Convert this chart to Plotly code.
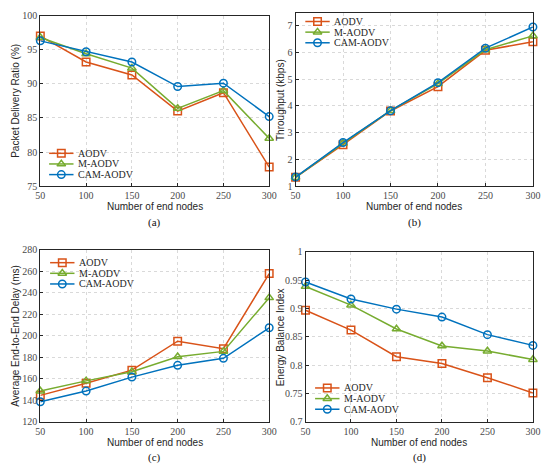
import plotly.graph_objects as go

nodes = [50, 100, 150, 200, 250, 300]
series_names = ["AODV", "M-AODV", "CAM-AODV"]

# (a) Packet Delivery Ratio (%)
pdr_aodv = [97.0, 93.2, 91.3, 86.0, 88.7, 77.8]
pdr_maodv = [96.8, 94.4, 92.3, 86.4, 89.0, 82.0]
pdr_cam = [96.3, 94.7, 93.2, 89.6, 90.1, 85.2]

# (b) Throughput (kbps)
thr_aodv = [1.33, 2.55, 3.81, 4.72, 6.08, 6.40]
thr_maodv = [1.33, 2.60, 3.82, 4.83, 6.10, 6.62]
thr_cam = [1.34, 2.63, 3.82, 4.87, 6.16, 6.95]

# (c) Average End-to-End Delay (ms)
del_aodv = [144.5, 155.8, 168.0, 195.0, 188.0, 258.0]
del_maodv = [148.5, 158.0, 166.5, 180.5, 185.5, 235.5]
del_cam = [138.5, 148.5, 161.5, 172.5, 179.0, 207.5]

# (d) Energy Balance Index
ebi_aodv = [0.897, 0.862, 0.815, 0.803, 0.778, 0.751]
ebi_maodv = [0.939, 0.906, 0.864, 0.834, 0.825, 0.810]
ebi_cam = [0.947, 0.917, 0.899, 0.885, 0.854, 0.835]

x_ticks = [50, 100, 150, 200, 250, 300]
colors = ["#D95319", "#77AC30", "#0072BD"]
symbols = ["square-open", "triangle-up-open", "circle-open"]

# The page body has an 8px default margin, so the figure starts at (8, 8) on the page.
OFF = 8
W, H = 542, 467
def fx(x):
    return (x - OFF) / W
def fy(y):
    return min(1.0, max(0.0, 1 - (y - OFF) / H))
def px(x0, x1):
    return [fx(x0), fx(x1)]
def py(top, bottom):
    return [fy(bottom), fy(top)]

# throughput axis: 1 at page y=185.3, 7 at page y=21; top border clamped to page y=8
thr_top = 7 + (21 - 8) / ((185.3 - 21) / 6)

panels = [
    dict(data=[pdr_aodv, pdr_maodv, pdr_cam], xd=px(36, 270.5), yd=py(10.7, 185.3),
         yr=[75, 100], yt=[75, 80, 85, 90, 95, 100], ytitle="Packet Delivery Ratio (%)",
         cap="(a)", leg=(45, 151.7), bottom=185.3),
    dict(data=[thr_aodv, thr_maodv, thr_cam], xd=px(297.5, 540.7), yd=py(8, 185.3),
         yr=[1, thr_top], yt=[1, 2, 3, 4, 5, 6, 7], ytitle="Throughput (kbps)",
         cap="(b)", leg=(307.5, 16.7), bottom=185.3),
    dict(data=[del_aodv, del_maodv, del_cam], xd=px(36, 270.5), yd=py(250.7, 426.5),
         yr=[120, 280], yt=[120, 140, 160, 180, 200, 220, 240, 260, 280],
         ytitle="Average End-to-End Delay (ms)", cap="(c)", leg=(46, 263.7), bottom=426.5),
    dict(data=[ebi_aodv, ebi_maodv, ebi_cam], xd=px(307.7, 540.7), yd=py(252.7, 426.7),
         yr=[0.7, 1.0], yt=[0.7, 0.75, 0.8, 0.85, 0.9, 0.95, 1.0],
         ytitle="Energy Balance Index", cap="(d)", leg=(317.5, 392), bottom=426.7),
]

ROW = 10.9      # legend row spacing (px)
KEY = 25        # legend key line length (px)

fig = go.Figure()
annotations = []
layout = dict(width=W, height=H, margin=dict(l=0, r=0, t=0, b=0),
              paper_bgcolor="white", plot_bgcolor="rgba(0,0,0,0)", showlegend=False)

tick_font = dict(family="Liberation Serif, Times New Roman, serif", size=10, color="#4a4a4a")
title_font = dict(family="Liberation Sans, Arial, sans-serif", size=10, color="#262626")
leg_font = dict(family="Liberation Serif, Times New Roman, serif", size=10, color="#262626")

for i, p in enumerate(panels):
    k = "" if i == 0 else str(i + 1)
    for j, name in enumerate(series_names):
        fig.add_trace(go.Scatter(
            x=nodes, y=p["data"][j], name=name, mode="lines+markers",
            line=dict(color=colors[j], width=1.5),
            marker=dict(symbol=symbols[j], size=7.5, color=colors[j],
                        line=dict(width=1.5, color=colors[j])),
            xaxis="x" + k, yaxis="y" + k, cliponaxis=False, showlegend=False))
    axcommon = dict(showline=True, mirror=True, linecolor="#262626", linewidth=1,
                    ticks="inside", ticklen=3, tickcolor="#262626",
                    showgrid=True, gridcolor="#d9d9d9", griddash="dot", gridwidth=1,
                    zeroline=False, tickfont=tick_font)
    layout["xaxis" + k] = dict(domain=p["xd"], range=[50, 300], tickvals=x_ticks,
                               anchor="y" + k, **axcommon)
    layout["yaxis" + k] = dict(domain=p["yd"], range=p["yr"], tickvals=p["yt"],
                               anchor="x" + k, **axcommon)
    xc = (p["xd"][0] + p["xd"][1]) / 2
    annotations.append(dict(text="Number of end nodes", x=xc, y=fy(p["bottom"] + 21),
                            xref="paper", yref="paper", xanchor="center", yanchor="middle",
                            showarrow=False, font=title_font))
    annotations.append(dict(text=p["cap"], x=xc, y=fy(p["bottom"] + 37),
                            xref="paper", yref="paper", xanchor="center", yanchor="middle",
                            showarrow=False,
                            font=dict(family="Liberation Serif, Times New Roman, serif",
                                      size=11, color="#111")))
    yx = 11 if i % 2 == 0 else 282
    annotations.append(dict(text=p["ytitle"], x=fx(yx), y=(p["yd"][0] + p["yd"][1]) / 2,
                            xref="paper", yref="paper", xanchor="center", yanchor="middle",
                            textangle=-90, showarrow=False, font=title_font))

# Compact legends drawn on a hidden overlay axis measured in page pixels
LK = "5"
layout["xaxis" + LK] = dict(domain=[0, 1], range=[OFF, OFF + W], visible=False,
                            anchor="y" + LK, fixedrange=True, showgrid=False, zeroline=False)
layout["yaxis" + LK] = dict(domain=[0, 1], range=[OFF + H, OFF], visible=False,
                            anchor="x" + LK, fixedrange=True, showgrid=False, zeroline=False)
for i, p in enumerate(panels):
    lx, ly = p["leg"]
    for j, name in enumerate(series_names):
        yy = ly + j * ROW
        fig.add_trace(go.Scatter(
            x=[lx, lx + KEY / 2, lx + KEY], y=[yy, yy, yy], mode="lines",
            line=dict(color=colors[j], width=1.5), hoverinfo="skip",
            xaxis="x" + LK, yaxis="y" + LK, cliponaxis=False, showlegend=False))
        fig.add_trace(go.Scatter(
            x=[lx + KEY / 2], y=[yy], mode="markers",
            marker=dict(symbol=symbols[j], size=7.5, color=colors[j],
                        line=dict(width=1.5, color=colors[j])), hoverinfo="skip",
            xaxis="x" + LK, yaxis="y" + LK, cliponaxis=False, showlegend=False))
        annotations.append(dict(text=name, x=fx(lx + KEY + 2.5), y=fy(yy),
                                xref="paper", yref="paper", xanchor="left", yanchor="middle",
                                showarrow=False, font=leg_font))

layout["annotations"] = annotations
fig.update_layout(**layout)
fig.write_html("out.html")
